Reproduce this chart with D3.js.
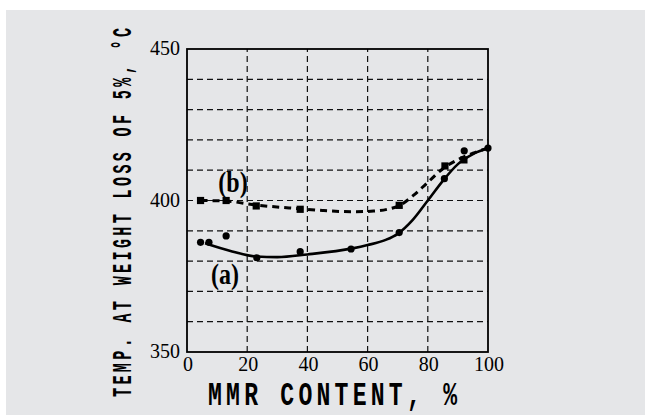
<!DOCTYPE html>
<html>
<head>
<meta charset="utf-8">
<script src="https://cdn.jsdelivr.net/npm/d3@7"></script>
<style>
  html, body { margin: 0; padding: 0; background: #fff; }
  svg { display: block; }
</style>
</head>
<body>
<svg id="chart" width="645" height="415"></svg>
<script>
// measured points
const pointsA = [[4.5, 386.2], [7.3, 386.2], [13, 388.3], [23.2, 381.1], [37.6, 383.1], [54.5, 384.0], [70.5, 389.4], [85.5, 407.2], [92.1, 416.4], [100, 417.3]];
const pointsB = [[4.5, 400], [13, 400], [23, 398.2], [37.6, 397.1], [70.5, 398.4], [85.7, 411.4], [92, 413.4]];

// fitted curves
const curveA = [[6, 385.9], [15, 383.2], [23, 381.5], [30, 381.3], [40, 382.2], [55, 384.2], [60, 385.3], [66, 387], [70, 389], [75, 393.6], [80, 400], [85, 406.5], [90, 412], [95, 415.3], [100, 417.3]];
const curveB = [[4.5, 400], [13, 399.8], [23, 398.5], [37, 397.3], [45, 396.7], [55, 396.3], [62, 396.5], [67, 397.2], [70.5, 398.3], [75, 401.5], [80, 406], [85, 410.5], [90, 413.5], [95, 415.6], [100, 417.3]];

const xTicks = [0, 20, 40, 60, 80, 100];
const yTicks = [350, 400, 450];
const yGrid = [360, 370, 380, 390, 400, 410, 420, 430, 440];

const svg = d3.select("#chart");

svg.append("rect")
    .attr("x", 6).attr("y", 10)
    .attr("width", 639).attr("height", 405)
    .attr("fill", "#e5e6e8");

const x = d3.scaleLinear().domain([0, 100]).range([187, 488]);
const y = d3.scaleLinear().domain([350, 450]).range([352, 49]);

const g = svg.append("g");

// grid
g.selectAll("line.vg")
    .data(xTicks.slice(1, -1))
    .enter().append("line")
    .attr("x1", d => x(d)).attr("x2", d => x(d))
    .attr("y1", y(350)).attr("y2", y(450))
    .attr("stroke", "#111").attr("stroke-width", 1.2)
    .attr("stroke-dasharray", "6,4");

g.selectAll("line.hg")
    .data(yGrid)
    .enter().append("line")
    .attr("x1", x(0)).attr("x2", x(100))
    .attr("y1", d => y(d)).attr("y2", d => y(d))
    .attr("stroke", "#111").attr("stroke-width", 1.2)
    .attr("stroke-dasharray", "6,4");

// frame
g.append("rect")
    .attr("x", x(0)).attr("y", y(450))
    .attr("width", x(100) - x(0)).attr("height", y(350) - y(450))
    .attr("fill", "none").attr("stroke", "#000").attr("stroke-width", 1.8);

// tick labels
g.selectAll("text.xt")
    .data(xTicks)
    .enter().append("text")
    .attr("x", d => x(d) + 1).attr("y", 371)
    .attr("text-anchor", "middle")
    .attr("font-family", "Liberation Serif, serif")
    .attr("font-size", 20)
    .text(d => d);

g.selectAll("text.yt")
    .data(yTicks)
    .enter().append("text")
    .attr("x", 180).attr("y", d => y(d) + 6)
    .attr("text-anchor", "end")
    .attr("font-family", "Liberation Serif, serif")
    .attr("font-size", 20)
    .text(d => d);

// curves
const line = d3.line()
    .x(d => x(d[0])).y(d => y(d[1]))
    .curve(d3.curveMonotoneX);

g.append("path")
    .datum(curveA)
    .attr("d", line)
    .attr("fill", "none").attr("stroke", "#000").attr("stroke-width", 2.6);

g.append("path")
    .datum(curveB)
    .attr("d", line)
    .attr("fill", "none").attr("stroke", "#000").attr("stroke-width", 3)
    .attr("stroke-dasharray", "7,5");

g.selectAll("circle.pa")
    .data(pointsA)
    .enter().append("circle")
    .attr("cx", d => x(d[0])).attr("cy", d => y(d[1]))
    .attr("r", 3.6).attr("fill", "#000");

g.selectAll("rect.pb")
    .data(pointsB)
    .enter().append("rect")
    .attr("x", d => x(d[0]) - 3.6).attr("y", d => y(d[1]) - 3.6)
    .attr("width", 7.2).attr("height", 7.2).attr("fill", "#000");

// series labels
const labelFont = "Liberation Serif, serif";
const titleFont = "Liberation Mono, monospace";
g.append("text")
    .attr("transform", "translate(233,192) scale(0.8,1)")
    .attr("text-anchor", "middle")
    .attr("font-family", labelFont).attr("font-weight", "bold")
    .attr("font-size", 30)
    .text("(b)");

g.append("text")
    .attr("transform", "translate(225,284) scale(0.8,1)")
    .attr("text-anchor", "middle")
    .attr("font-family", labelFont).attr("font-weight", "bold")
    .attr("font-size", 30)
    .text("(a)");

// axis titles
svg.append("text")
    .attr("transform", "translate(208,405) scale(0.7,1)")
    .attr("font-family", titleFont).attr("font-weight", "bold")
    .attr("font-size", 33)
    .attr("textLength", 249 / 0.7).attr("lengthAdjust", "spacing")
    .text("MMR CONTENT, %");

svg.append("text")
    .attr("transform", "translate(131,397) rotate(-90) scale(0.56,1)")
    .attr("font-family", titleFont).attr("font-weight", "bold")
    .attr("font-size", 27)
    .attr("textLength", 369 / 0.56).attr("lengthAdjust", "spacing")
    .text("TEMP. AT WEIGHT LOSS OF 5%, °C");
</script>
</body>
</html>
